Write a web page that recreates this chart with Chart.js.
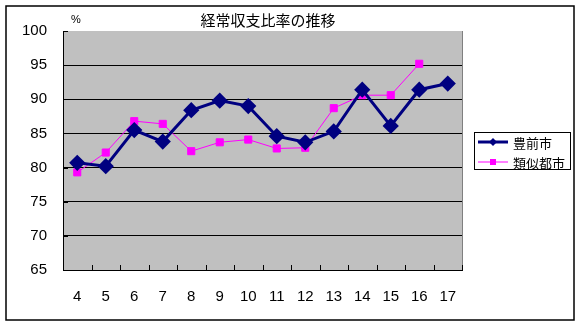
<!DOCTYPE html>
<html><head><meta charset="utf-8">
<script src="https://cdn.jsdelivr.net/npm/chart.js@4/dist/chart.umd.min.js"></script>
<style>html,body{margin:0;padding:0;background:#fff;}#wrap{width:581px;height:325px;position:relative;}</style>
</head><body><div id="wrap"><canvas id="c" width="581" height="325"></canvas></div>
<script>
const categories = ['4','5','6','7','8','9','10','11','12','13','14','15','16','17'];
const buzenValues = [80.7,80.2,85.5,83.8,88.4,89.8,89.0,84.6,83.7,85.3,91.4,86.1,91.4,92.3];
const similarValues = [79.3,82.2,86.8,86.4,82.4,83.7,84.1,82.8,82.9,88.7,90.6,90.6,95.2,null];
const seriesNames = ['豊前市','類似都市'];
const chartTitle = '経常収支比率の推移';
const unitLabel = '%';
const yTicks = [65,70,75,80,85,90,95,100];

const FONT = '"Liberation Sans", Arial, sans-serif';
const JFONT = '"Noto Sans CJK JP", "Noto Sans", sans-serif';

const decor = {
  id: 'decor',
  beforeDraw(chart) {
    const {ctx, chartArea: a} = chart;
    ctx.save();
    ctx.fillStyle = '#C0C0C0';
    ctx.fillRect(a.left, a.top, a.right - a.left, a.bottom - a.top);
    ctx.restore();
  },
  afterDraw(chart) {
    const {ctx, chartArea: a} = chart;
    const xs = chart.scales.x, ys = chart.scales.y;
    ctx.save();
    // right border of plot
    ctx.strokeStyle = '#808080'; ctx.lineWidth = 1;
    ctx.beginPath(); ctx.moveTo(Math.round(a.right)+0.5, a.top); ctx.lineTo(Math.round(a.right)+0.5, a.bottom); ctx.stroke();
    // inward ticks
    ctx.strokeStyle = '#000'; ctx.lineWidth = 1;
    ctx.beginPath();
    yTicks.forEach(v => { const y = Math.round(ys.getPixelForValue(v)) + 0.5; ctx.moveTo(a.left, y); ctx.lineTo(a.left + 5, y); });
    for (let i = 0; i < categories.length; i++) {
      let x;
      if (i + 1 < categories.length) {
        x = Math.round((xs.getPixelForValue(i) + xs.getPixelForValue(i + 1)) / 2) + 0.5;
      } else {
        x = Math.round(a.right) + 0.5;
      }
      ctx.moveTo(x, a.bottom); ctx.lineTo(x, a.bottom - 5);
    }
    ctx.stroke();
    // title & unit
    ctx.fillStyle = '#000';
    ctx.textBaseline = 'middle';
    ctx.textAlign = 'center';
    ctx.font = '15px ' + JFONT;
    ctx.fillText(chartTitle, 268, 20);
    ctx.font = '11px ' + FONT;
    ctx.fillText(unitLabel, 76, 20);
    // legend
    const lx = 474, ly = 132, lw = 96, lh = 37;
    ctx.strokeStyle = '#000'; ctx.lineWidth = 1;
    ctx.strokeRect(lx + 0.5, ly + 0.5, lw, lh);
    chart.data.datasets.forEach((ds, i) => {
      const y = ly + 10 + i * 20;
      ctx.strokeStyle = ds.borderColor; ctx.lineWidth = ds.borderWidth;
      ctx.beginPath(); ctx.moveTo(lx + 4, y); ctx.lineTo(lx + 34, y); ctx.stroke();
      ctx.fillStyle = ds.pointBackgroundColor;
      if (ds.pointStyle === 'rectRot') {
        ctx.beginPath(); ctx.moveTo(lx + 19, y - 4); ctx.lineTo(lx + 23, y); ctx.lineTo(lx + 19, y + 4); ctx.lineTo(lx + 15, y); ctx.closePath(); ctx.fill();
      } else {
        ctx.fillRect(lx + 16, y - 3, 6, 6);
      }
      ctx.fillStyle = '#000';
      ctx.textAlign = 'left';
      ctx.font = '13px ' + JFONT;
      ctx.fillText(ds.label, lx + 39, y + 1);
    });
    // outer border
    ctx.strokeStyle = '#000'; ctx.lineWidth = 1.5;
    ctx.strokeRect(6, 6, 568, 314);
    ctx.restore();
  }
};

new Chart(document.getElementById('c'), {
  type: 'line',
  data: {
    labels: categories,
    datasets: [
      { label: seriesNames[0], data: buzenValues, borderColor: '#000080', backgroundColor: '#000080',
        pointBackgroundColor: '#000080', pointBorderColor: '#000080', borderWidth: 3,
        pointStyle: 'rectRot', pointRadius: 6, pointHoverRadius: 6, tension: 0 },
      { label: seriesNames[1], data: similarValues, borderColor: '#FF00FF', backgroundColor: '#FF00FF',
        pointBackgroundColor: '#FF00FF', pointBorderColor: '#FF00FF', borderWidth: 1,
        pointStyle: 'rect', pointRadius: 5, pointHoverRadius: 5, tension: 0 }
    ]
  },
  options: {
    responsive: false, animation: false,
    layout: { padding: { left: 6, right: 119, top: 31, bottom: 0 } },
    plugins: { legend: { display: false }, title: { display: false }, tooltip: { enabled: false } },
    scales: {
      x: {
        offset: true,
        grid: { display: false, drawTicks: false },
        border: { display: true, color: '#000', width: 1 },
        ticks: { color: '#000', font: { family: FONT, size: 15 }, padding: 18, maxRotation: 0, autoSkip: false },
        afterFit(s) { s.height = 55; }
      },
      y: {
        min: 65, max: 100,
        grid: { color: c => (c.tick && c.tick.value === 100) ? 'rgba(0,0,0,0)' : '#000', lineWidth: 1, drawTicks: false },
        border: { display: true, color: '#000', width: 1 },
        ticks: { stepSize: 5, color: '#000', font: { family: FONT, size: 15 }, padding: 16 },
        afterFit(s) { s.width = 57; }
      }
    }
  },
  plugins: [decor]
});
</script>
</body></html>
